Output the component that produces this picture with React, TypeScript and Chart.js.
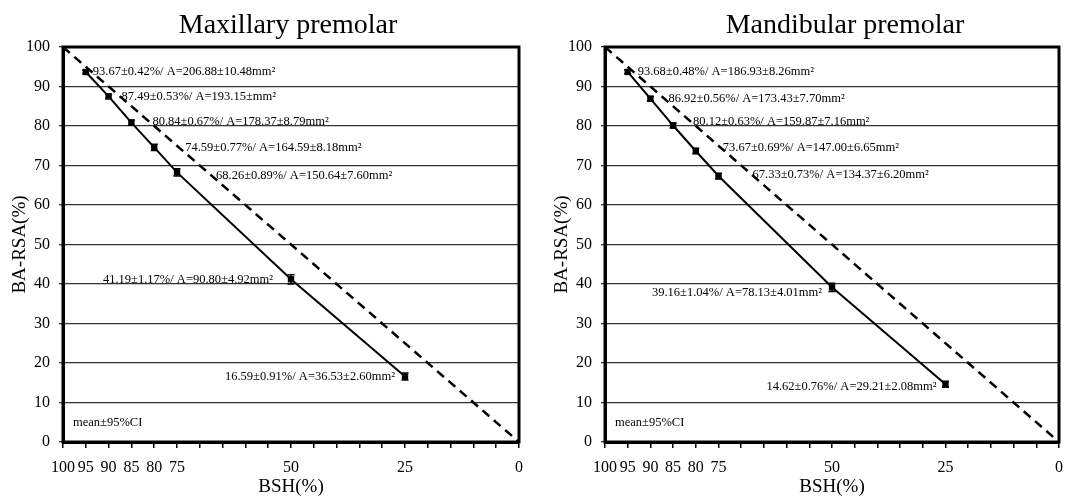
import React, { useEffect, useRef } from 'react';
import { Chart, registerables } from 'chart.js';

Chart.register(...registerables);

// ---- data ----
const bsh = [95, 90, 85, 80, 75, 50, 25];

const maxRsa = [93.67, 87.49, 80.84, 74.59, 68.26, 41.19, 16.59];
const maxCi = [0.42, 0.53, 0.67, 0.77, 0.89, 1.17, 0.91];
const maxLabels = [
  '93.67±0.42%/ A=206.88±10.48mm²',
  '87.49±0.53%/ A=193.15±mm²',
  '80.84±0.67%/ A=178.37±8.79mm²',
  '74.59±0.77%/ A=164.59±8.18mm²',
  '68.26±0.89%/ A=150.64±7.60mm²',
  '41.19±1.17%/ A=90.80±4.92mm²',
  '16.59±0.91%/ A=36.53±2.60mm²',
];

const mandRsa = [93.68, 86.92, 80.12, 73.67, 67.33, 39.16, 14.62];
const mandCi = [0.48, 0.56, 0.63, 0.69, 0.73, 1.04, 0.76];
const mandLabels = [
  '93.68±0.48%/ A=186.93±8.26mm²',
  '86.92±0.56%/ A=173.43±7.70mm²',
  '80.12±0.63%/ A=159.87±7.16mm²',
  '73.67±0.69%/ A=147.00±6.65mm²',
  '67.33±0.73%/ A=134.37±6.20mm²',
  '39.16±1.04%/ A=78.13±4.01mm²',
  '14.62±0.76%/ A=29.21±2.08mm²',
];

const identityX = [100, 0];
const identityY = [100, 0];

const xTickLabels = [100, 95, 90, 85, 80, 75, 50, 25, 0];
const xTickStep = 5;
const yTickStep = 10;

// ---- annotation layout (pixel offsets from each point) ----
const maxOffsets: [number, number, CanvasTextAlign][] = [
  [7, 0, 'left'],
  [13, 0, 'left'],
  [21, -1, 'left'],
  [31, 0, 'left'],
  [39, 3, 'left'],
  [-18, 0, 'right'],
  [-10, 0, 'right'],
];
const mandOffsets: [number, number, CanvasTextAlign][] = [
  [10, 0, 'left'],
  [18, 0, 'left'],
  [20, -4, 'left'],
  [27, -3, 'left'],
  [34, -1, 'left'],
  [-10, 5, 'right'],
  [-9, 2, 'right'],
];

const SERIF = '"Liberation Serif", "Times New Roman", serif';

type PanelCfg = {
  title: string;
  titleX: number;
  rsa: number[];
  ci: number[];
  labels: string[];
  offsets: [number, number, CanvasTextAlign][];
  width: number;
  padRight: number;
};

function makeDecor(cfg: PanelCfg) {
  return {
    id: 'decor',
    afterDatasetsDraw(chart: any) {
      const { ctx, chartArea, scales } = chart;
      const xs = scales.x;
      const ys = scales.y;
      ctx.save();
      // error bars
      ctx.strokeStyle = '#000';
      ctx.lineWidth = 1.5;
      cfg.ci.forEach((e, i) => {
        const px = xs.getPixelForValue(bsh[i]);
        const top = ys.getPixelForValue(cfg.rsa[i] + e);
        const bot = ys.getPixelForValue(cfg.rsa[i] - e);
        ctx.beginPath();
        ctx.moveTo(px, top);
        ctx.lineTo(px, bot);
        ctx.moveTo(px - 3.5, top);
        ctx.lineTo(px + 3.5, top);
        ctx.moveTo(px - 3.5, bot);
        ctx.lineTo(px + 3.5, bot);
        ctx.stroke();
      });
      // point annotations
      ctx.fillStyle = '#000';
      ctx.font = `12.5px ${SERIF}`;
      ctx.textBaseline = 'middle';
      cfg.labels.forEach((t, i) => {
        const px = xs.getPixelForValue(bsh[i]);
        const py = ys.getPixelForValue(cfg.rsa[i]);
        const [dx, dy, al] = cfg.offsets[i];
        ctx.textAlign = al;
        ctx.fillText(t, px + dx, py + dy);
      });
      // mean label
      ctx.textAlign = 'left';
      ctx.fillText('mean±95%CI', chartArea.left + 10, chartArea.bottom - 19);
      // frame
      ctx.lineWidth = 3;
      ctx.strokeRect(chartArea.left, chartArea.top, chartArea.right - chartArea.left, chartArea.bottom - chartArea.top);
      // title
      ctx.font = `28px ${SERIF}`;
      ctx.textAlign = 'center';
      ctx.textBaseline = 'alphabetic';
      ctx.fillText(cfg.title, cfg.titleX, 33);
      ctx.restore();
    },
  };
}

function Panel({ cfg, left }: { cfg: PanelCfg; left: number }) {
  const ref = useRef<HTMLCanvasElement | null>(null);
  useEffect(() => {
    if (!ref.current) return;
    const chart = new Chart(ref.current, {
      type: 'scatter',
      data: {
        datasets: [
          {
            data: identityX.map((x, i) => ({ x, y: identityY[i] })),
            showLine: true,
            borderColor: '#000',
            borderWidth: 2.5,
            borderDash: [9, 6],
            pointRadius: 0,
          },
          {
            data: bsh.map((x, i) => ({ x, y: cfg.rsa[i] })),
            showLine: true,
            borderColor: '#000',
            borderWidth: 2,
            pointStyle: 'rect',
            pointRadius: 4.5,
            pointBorderWidth: 0,
            pointBackgroundColor: '#000',
          },
        ],
      },
      options: {
        responsive: false,
        animation: false,
        events: [],
        layout: { padding: { top: 47, left: 0, right: cfg.padRight, bottom: 0 } },
        plugins: { legend: { display: false }, tooltip: { enabled: false }, title: { display: false } },
        scales: {
          x: {
            type: 'linear',
            reverse: true,
            min: 0,
            max: 100,
            afterFit: (s: any) => {
              s.height = 56;
            },
            ticks: {
              stepSize: xTickStep,
              autoSkip: false,
              maxRotation: 0,
              minRotation: 0,
              padding: 10,
              color: '#000',
              font: { family: SERIF, size: 16 },
              callback: (v: any) => (xTickLabels.includes(Number(v)) ? String(v) : ''),
            },
            grid: { drawOnChartArea: false, drawTicks: true, tickLength: 6, color: '#000', lineWidth: 1.5 },
            border: { display: true, color: '#000', width: 3 },
            title: {
              display: true,
              text: 'BSH(%)',
              color: '#000',
              font: { family: SERIF, size: 19 },
              padding: { top: 0, bottom: 0 },
            },
          },
          y: {
            type: 'linear',
            min: 0,
            max: 100,
            afterFit: (s: any) => {
              s.width = 63;
            },
            ticks: {
              stepSize: yTickStep,
              padding: 9,
              color: '#000',
              font: { family: SERIF, size: 16 },
            },
            grid: { drawOnChartArea: true, drawTicks: true, tickLength: 4, color: '#333', lineWidth: 1.3 },
            border: { display: true, color: '#000', width: 3 },
            title: {
              display: true,
              text: 'BA-RSA(%)',
              color: '#000',
              font: { family: SERIF, size: 19 },
              padding: { top: 9, bottom: 0 },
            },
          },
        },
      },
      plugins: [makeDecor(cfg)],
    } as any);
    return () => chart.destroy();
  }, [cfg]);
  return (
    <canvas
      ref={ref}
      width={cfg.width}
      height={498}
      style={{ position: 'absolute', left, top: 0, width: cfg.width, height: 498 }}
    />
  );
}

const leftCfg: PanelCfg = {
  title: 'Maxillary premolar',
  titleX: 288,
  rsa: maxRsa,
  ci: maxCi,
  labels: maxLabels,
  offsets: maxOffsets,
  width: 533,
  padRight: 14,
};
const rightCfg: PanelCfg = {
  title: 'Mandibular premolar',
  titleX: 303,
  rsa: mandRsa,
  ci: mandCi,
  labels: mandLabels,
  offsets: mandOffsets,
  width: 531,
  padRight: 14,
};

export default function App() {
  return (
    <div style={{ position: 'fixed', left: 0, top: 0, width: 1065, height: 498, background: '#fff', overflow: 'hidden' }}>
      <Panel cfg={rightCfg} left={542} />
      <Panel cfg={leftCfg} left={0} />
    </div>
  );
}
